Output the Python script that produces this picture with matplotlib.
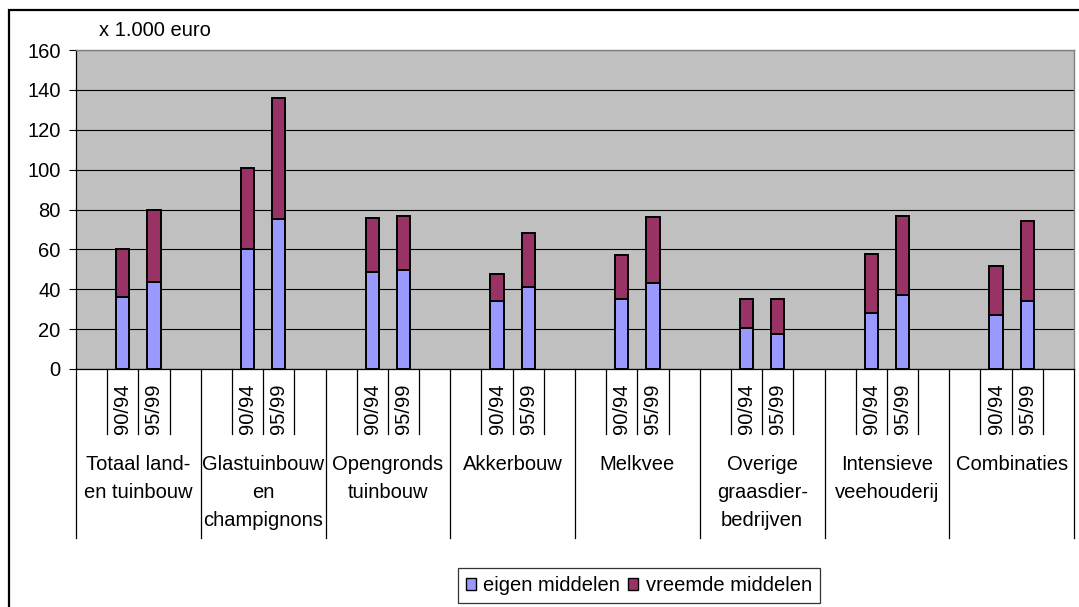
import matplotlib

matplotlib.use("Agg")

import matplotlib.pyplot as plt
import numpy as np
from matplotlib.patches import Patch, Rectangle
from matplotlib.transforms import blended_transform_factory

plt.rcParams["font.family"] = ["Liberation Sans", "DejaVu Sans"]

# sector groups and the two periods shown for each
sectors = [
    "Totaal land-\nen tuinbouw",
    "Glastuinbouw\nen\nchampignons",
    "Opengronds\ntuinbouw",
    "Akkerbouw",
    "Melkvee",
    "Overige\ngraasdier-\nbedrijven",
    "Intensieve\nveehouderij",
    "Combinaties",
]
periods = ["90/94", "95/99"]

# x 1.000 euro, per sector
eigen_9094 = [36, 60, 48.5, 34, 35, 20.5, 28, 27]
vreemd_9094 = [24, 41, 27, 13.5, 22, 14.5, 29.5, 24.5]
eigen_9599 = [43.5, 75, 49.5, 41, 43, 17.5, 37, 34]
vreemd_9599 = [36, 61, 27, 27, 33, 17.5, 39.5, 40]

yticks = [0, 20, 40, 60, 80, 100, 120, 140, 160]

W, H = 1079, 607
FS = 14.5
C_EIGEN = "#9999FF"
C_VREEMD = "#993366"


def fx(px):
    return px / W


def fy(py):
    return 1 - py / H


fig = plt.figure(figsize=(W / 100, H / 100), dpi=100)
fig.patch.set_facecolor("white")

# outer chart frame (runs off the right and bottom edge)
fig.patches.append(Rectangle((fx(9), fy(700)), 2, fy(10) - fy(700),
                             transform=fig.transFigure, fill=False,
                             edgecolor="black", linewidth=1.6, clip_on=False))

x0, x1, ytop, ybot = 76, 1074, 50, 369
ax = fig.add_axes([fx(x0), fy(ybot), fx(x1 - x0), (ybot - ytop) / H])
ax.set_facecolor("#C0C0C0")

# four slots per sector: empty, 90/94, 95/99, empty
n = len(sectors)
pos_a = np.arange(n) * 4 + 1
pos_b = np.arange(n) * 4 + 2
bw = 0.42
kw = dict(width=bw, edgecolor="black", linewidth=1.4, zorder=3)
ax.bar(pos_a, eigen_9094, color=C_EIGEN, **kw)
ax.bar(pos_a, vreemd_9094, bottom=eigen_9094, color=C_VREEMD, **kw)
ax.bar(pos_b, eigen_9599, color=C_EIGEN, **kw)
ax.bar(pos_b, vreemd_9599, bottom=eigen_9599, color=C_VREEMD, **kw)

ax.set_xlim(-0.5, 4 * n - 0.5)
ax.set_ylim(0, 160)
ax.set_yticks(yticks)
ax.set_yticklabels([str(v) for v in yticks], fontsize=FS)
ax.tick_params(axis="y", direction="out", length=5, width=0.8, pad=6,
               colors="black")
ax.set_xticks([])
ax.yaxis.grid(True, color="black", linewidth=0.8, zorder=1)
ax.set_axisbelow(True)
for side in ("top", "right"):
    ax.spines[side].set_color("#808080")
    ax.spines[side].set_linewidth(1.0)
for side in ("left", "bottom"):
    ax.spines[side].set_color("black")
    ax.spines[side].set_linewidth(0.9)

# multi-level category axis drawn below the plot area
trans = blended_transform_factory(ax.transData, fig.transFigure)
short_end = fy(434)
long_end = fy(538)
axis_y = fy(ybot)
for g in range(n + 1):
    xb = 4 * g - 0.5
    ax.plot([xb, xb], [axis_y, long_end], transform=trans, color="black",
            linewidth=0.9, clip_on=False)
for g in range(n):
    for k in (0.5, 1.5, 2.5):
        xb = 4 * g + k
        ax.plot([xb, xb], [axis_y, short_end], transform=trans,
                color="black", linewidth=0.9, clip_on=False)
    for p, lab in zip((pos_a[g], pos_b[g]), periods):
        ax.text(p, fy(384), lab, transform=trans, rotation=90, ha="center",
                va="top", fontsize=FS)
    ax.text(4 * g + 1.5, fy(455), sectors[g], transform=trans, ha="center",
            va="top", fontsize=FS, linespacing=1.6)

fig.text(fx(99), fy(36), "x 1.000 euro", fontsize=FS, va="baseline",
         ha="left")

handles = [Patch(facecolor=C_EIGEN, edgecolor="black", linewidth=1.0),
           Patch(facecolor=C_VREEMD, edgecolor="black", linewidth=1.0)]
leg = fig.legend(handles, ["eigen middelen", "vreemde middelen"],
                 loc="center", bbox_to_anchor=(fx(639), fy(585.5)),
                 ncol=2, fontsize=FS, frameon=True, fancybox=False,
                 handlelength=0.5, handleheight=0.5, handletextpad=0.35,
                 columnspacing=0.4, borderpad=0.4, borderaxespad=0)
leg.get_frame().set_edgecolor("black")
leg.get_frame().set_linewidth(0.9)

fig.savefig("out.png", dpi=100)
